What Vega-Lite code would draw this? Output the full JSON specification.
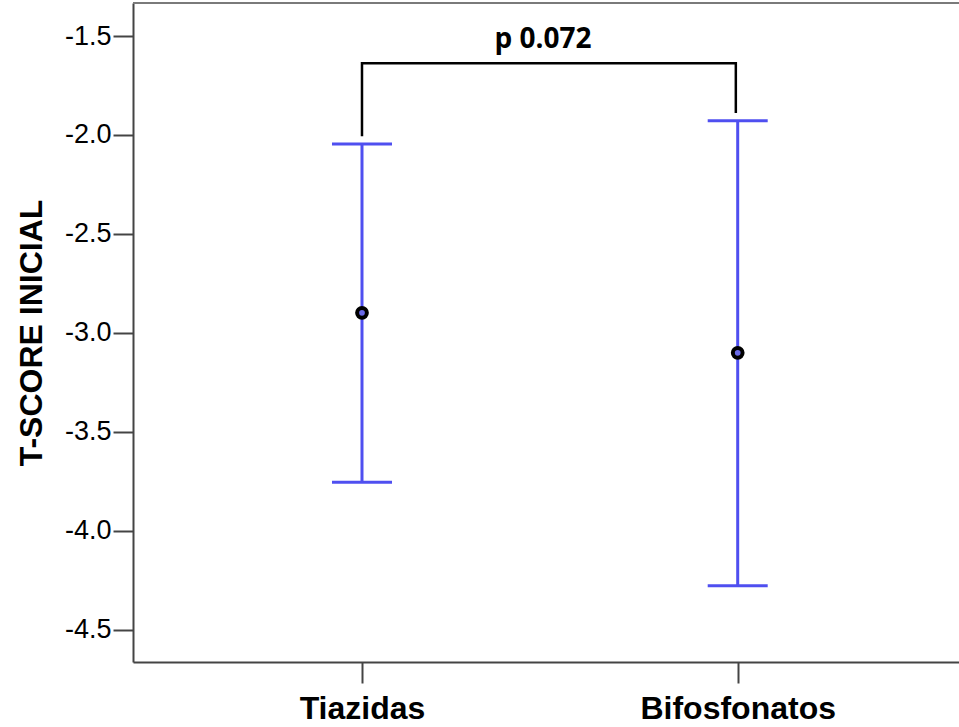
{
  "$schema": "https://vega.github.io/schema/vega-lite/v6.json",
  "autosize": "none",
  "width": 826,
  "height": 659,
  "padding": {"left": 133, "top": 3, "right": 0, "bottom": 65},
  "background": "white",
  "config": {
    "view": {"stroke": null},
    "axis": {"grid": false, "domainColor": "#444", "domainWidth": 2, "tickColor": "#444", "tickWidth": 2, "labelColor": "black", "titleColor": "black"}
  },
  "datasets": {
    "grupos": [
      {"grupo": "Tiazidas", "pos": 1, "media": -2.899, "inferior": -3.755, "superior": -2.046},
      {"grupo": "Bifosfonatos", "pos": 2, "media": -3.101, "inferior": -4.279, "superior": -1.928}
    ],
    "corchete": [
      {"pos": 1, "valor": -2.006, "orden": 1},
      {"pos": 1, "valor": -1.638, "orden": 2},
      {"pos": 1.995, "valor": -1.638, "orden": 3},
      {"pos": 1.995, "valor": -1.889, "orden": 4}
    ],
    "etiqueta": [
      {"pos": 1.482, "valor": -1.52, "texto": "p 0.072"}
    ],
    "borde": [
      {"valor": -1.333}
    ]
  },
  "layer": [
    {
      "data": {"name": "borde"},
      "mark": {"type": "rule", "color": "#7a7a7a", "strokeWidth": 2},
      "encoding": {"y": {"field": "valor", "type": "quantitative"}}
    },
    {
      "data": {"name": "grupos"},
      "mark": {"type": "errorbar", "thickness": 3, "size": 60,
        "rule": {"color": "#4f4ff0", "opacity": 1},
        "ticks": {"color": "#4f4ff0", "opacity": 1}},
      "encoding": {
        "x": {
          "field": "pos", "type": "quantitative",
          "scale": {"domain": [0.3905, 2.589], "nice": false, "zero": false},
          "axis": {"values": [1, 2], "title": null, "labelExpr": "datum.value == 1 ? 'Tiazidas' : 'Bifosfonatos'", "labelFont": "Liberation Sans", "labelFontSize": 32, "labelFontWeight": "bold", "labelPadding": 10, "labelLimit": 0, "tickSize": 21, "labelFlush": false, "labelOverlap": false}
        },
        "y": {
          "field": "inferior", "type": "quantitative",
          "scale": {"domain": [-4.664, -1.333], "nice": false, "zero": false},
          "axis": {"values": [-4.5, -4, -3.5, -3, -2.5, -2, -1.5], "labelExpr": "(datum.value < 0 ? '-' : '') + format(abs(datum.value), '.1f')", "title": "T-SCORE INICIAL", "labelFont": "Liberation Sans", "labelFontSize": 27, "labelPadding": 2, "tickSize": 20, "titleFont": "Liberation Sans", "titleFontSize": 32, "titleFontWeight": "bold", "titlePadding": 16}
        },
        "y2": {"field": "superior"}
      }
    },
    {
      "data": {"name": "grupos"},
      "mark": {"type": "point", "filled": false, "fill": "#6a6ae8", "fillOpacity": 1, "stroke": "black", "strokeWidth": 4, "size": 95, "opacity": 1},
      "encoding": {
        "x": {"field": "pos", "type": "quantitative"},
        "y": {"field": "media", "type": "quantitative"}
      }
    },
    {
      "data": {"name": "corchete"},
      "mark": {"type": "line", "color": "black", "strokeWidth": 2.5},
      "encoding": {
        "x": {"field": "pos", "type": "quantitative"},
        "y": {"field": "valor", "type": "quantitative"},
        "order": {"field": "orden", "type": "quantitative"}
      }
    },
    {
      "data": {"name": "etiqueta"},
      "mark": {"type": "text", "font": "Open Sans", "fontSize": 28, "fontWeight": "bold", "color": "black", "baseline": "middle", "align": "center"},
      "encoding": {
        "x": {"field": "pos", "type": "quantitative"},
        "y": {"field": "valor", "type": "quantitative"},
        "text": {"field": "texto"}
      }
    }
  ]
}
